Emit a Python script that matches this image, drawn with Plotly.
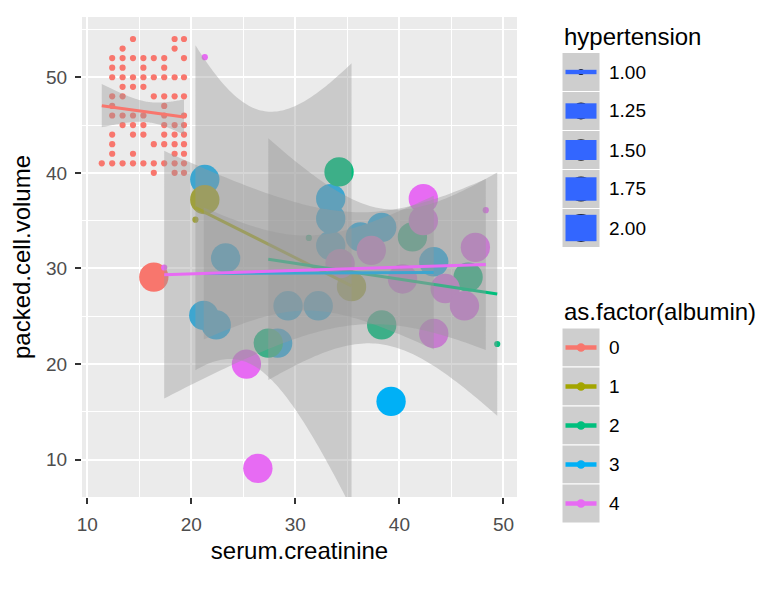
import math
import numpy as np
import plotly.graph_objects as go

FIG_W, FIG_H = 767, 592
ML, MR, MT, MB = 74, 258, 9, 103
PW = FIG_W - ML - MR
PH = FIG_H - MT - MB

# ---------------- data ----------------
ALBUMIN_LEVELS = ["0", "1", "2", "3", "4"]
COLORS = ["#F8766D", "#A3A500", "#00BF7D", "#00B0F6", "#E76BF3"]
HTN_BREAKS = [1.00, 1.25, 1.50, 1.75, 2.00]
HTN_LABELS = ["1.00", "1.25", "1.50", "1.75", "2.00"]
X_TICKS = [10, 20, 30, 40, 50]
Y_TICKS = [10, 20, 30, 40, 50]
X_RANGE = [9.5, 51.3]
Y_RANGE = [6.1, 56.3]

# albumin 0: a dense block of small points (column x values, rows of packed.cell.volume)
red_cols = [11.4, 12.4, 13.4, 14.4, 15.4, 16.4, 17.4, 18.4, 19.3]
red_rows = {
    54: [4, 8, 9],
    53: [3, 8],
    52: [2, 3, 4, 5, 6, 7, 9],
    51: [2, 3, 5, 7],
    50: [2, 3, 4, 5, 6, 7, 8, 9],
    49: [3, 4, 5],
    48: [2, 3, 6, 7, 8, 9],
    47: [2, 7],
    46: [2, 3, 4, 5, 7, 9],
    45: [3, 4, 5, 7, 8, 9],
    44: [2, 4, 5, 7, 8, 9],
    43: [2, 6, 7, 8, 9],
    42: [2, 4, 8, 9],
    41: [1, 2, 3, 4, 5, 6, 7, 8, 9],
    40: [6, 8, 9],
}
alb0_x = [red_cols[c - 1] for r, cs in red_rows.items() for c in cs] + [16.4]
alb0_y = [r for r, cs in red_rows.items() for c in cs] + [29.1]
alb0_h = [1] * (len(alb0_x) - 1) + [2]

alb1_x = [21.3, 20.4, 35.4]
alb1_y = [37.2, 35.1, 28.1]
alb1_h = [2, 1, 2]

alb2_x = [27.4, 31.3, 34.2, 41.25, 46.6, 38.3, 49.4]
alb2_y = [22.2, 33.2, 40.1, 33.3, 29.1, 24.1, 22.1]
alb2_h = [2, 1, 2, 2, 2, 2, 1]

alb3_x = [21.3, 23.3, 21.2, 22.4, 28.3, 29.3, 32.2, 33.4, 33.4, 33.4, 36.25, 38.3, 43.3, 39.2]
alb3_y = [39.3, 31.1, 25.1, 24.1, 22.2, 26.1, 26.1, 37.3, 35.2, 32.4, 33.3, 34.3, 30.7, 16.1]
alb3_h = [2] * 14

alb4_x = [21.3, 17.4, 25.3, 26.4, 34.3, 37.3, 42.3, 42.3, 48.3, 47.3, 40.3, 44.4, 46.25, 43.3]
alb4_y = [52.1, 30.1, 20.0, 9.1, 30.5, 31.9, 37.3, 35.0, 36.1, 32.2, 28.9, 27.9, 26.1, 23.2]
alb4_h = [1, 1, 2, 2, 2, 2, 2, 2, 1, 2, 2, 2, 2, 2]

groups = [
    (alb0_x, alb0_y, alb0_h),
    (alb1_x, alb1_y, alb1_h),
    (alb2_x, alb2_y, alb2_h),
    (alb3_x, alb3_y, alb3_h),
    (alb4_x, alb4_y, alb4_h),
]

# ---------------- helpers ----------------
PT_C = 1.63    # px scale for point diameters (ggplot: size*.pt + stroke)
LN_K = 4.4     # px per ggplot size unit (lines)


def size_unit(h):
    # ggplot area palette, range 1..6, hypertension domain 1..2
    return 1 + 5 * math.sqrt((h - 1) / (2 - 1))


def point_diam(h):
    return PT_C * (2.845 * size_unit(h) + 0.945)


def t975(df):
    table = {1: 12.706, 2: 4.303, 3: 3.182, 4: 2.776, 5: 2.571, 6: 2.447, 7: 2.365,
             8: 2.306, 9: 2.262, 10: 2.228, 11: 2.201, 12: 2.179, 13: 2.160,
             14: 2.145, 15: 2.131, 16: 2.120, 17: 2.110, 18: 2.101, 19: 2.093, 20: 2.086}
    if df in table:
        return table[df]
    z = 1.959964
    return z + (z ** 3 + z) / (4 * df) + (5 * z ** 5 + 16 * z ** 3 + 3 * z) / (96 * df ** 2)


def lm_fit(x, y, n=80):
    x = np.asarray(x, float)
    y = np.asarray(y, float)
    xm, ym = x.mean(), y.mean()
    sxx = ((x - xm) ** 2).sum()
    b = ((x - xm) * (y - ym)).sum() / sxx
    a = ym - b * xm
    df = len(x) - 2
    s = math.sqrt(((y - (a + b * x)) ** 2).sum() / df)
    xs = np.linspace(x.min(), x.max(), n)
    fit = a + b * xs
    se = s * np.sqrt(1 / len(x) + (xs - xm) ** 2 / sxx)
    t = t975(df)
    return xs, fit, fit - t * se, fit + t * se


fits = [lm_fit(gx, gy) for gx, gy, gh in groups]

fig = go.Figure()

# points (drawing order)
for gi in [0, 3, 1, 2, 4]:
    gx, gy, gh = groups[gi]
    fig.add_trace(go.Scatter(
        x=gx, y=gy, mode="markers",
        marker=dict(color=COLORS[gi], size=[point_diam(h) for h in gh],
                    line=dict(width=0), opacity=1),
        showlegend=False, hoverinfo="skip"))

# smooths: ribbon then line, per group
for gi, (xs, fit, lo, hi) in enumerate(fits):
    fig.add_trace(go.Scatter(
        x=np.concatenate([xs, xs[::-1]]), y=np.concatenate([hi, lo[::-1]]),
        fill="toself", fillcolor="rgba(153,153,153,0.4)", mode="none",
        line=dict(width=0), showlegend=False, hoverinfo="skip"))
    fig.add_trace(go.Scatter(
        x=xs, y=fit, mode="lines", line=dict(color=COLORS[gi], width=3),
        showlegend=False, hoverinfo="skip"))


# ---------------- legends (drawn) ----------------
def px(xp):
    return (xp - ML) / PW


def py(yp):
    return (FIG_H - MB - yp) / PH


shapes = []
annotations = []
KEY_X0, KEY_X1 = 554, 592
KEY_H = 39
LAB_X = 599
KEY_BG = "#CECECE"
TXT_FONT = "Liberation Sans, Arial, sans-serif"
TITLE_SIZE = 24
LABEL_SIZE = 19

# hypertension legend
annotations.append(dict(text="hypertension", x=px(KEY_X0), y=py(29), xref="paper", yref="paper",
                        xanchor="left", yanchor="middle", showarrow=False,
                        font=dict(family=TXT_FONT, size=TITLE_SIZE, color="black")))
top = 44.5
for i, (v, lab) in enumerate(zip(HTN_BREAKS, HTN_LABELS)):
    y0 = top + KEY_H * i
    y1 = y0 + KEY_H
    cy = (y0 + y1) / 2
    shapes.append(dict(type="rect", xref="paper", yref="paper", x0=px(KEY_X0), x1=px(KEY_X1),
                       y0=py(y1), y1=py(y0), fillcolor=KEY_BG, line=dict(color="white", width=1),
                       layer="above"))
    lw = LN_K * size_unit(v)
    pd = point_diam(v) if v == 1.0 else lw + 1.5
    cx = (KEY_X0 + KEY_X1) / 2
    shapes.append(dict(type="circle", xref="paper", yref="paper",
                       x0=px(cx - pd / 2), x1=px(cx + pd / 2), y0=py(cy + pd / 2), y1=py(cy - pd / 2),
                       fillcolor="#1A1A1A", line=dict(width=0), layer="above"))
    shapes.append(dict(type="rect", xref="paper", yref="paper",
                       x0=px(KEY_X0 + 3.5), x1=px(KEY_X1 - 3.5), y0=py(cy + lw / 2), y1=py(cy - lw / 2),
                       fillcolor="#3366FF", line=dict(width=0), layer="above"))
    annotations.append(dict(text=lab, x=px(LAB_X), y=py(cy), xref="paper", yref="paper",
                            xanchor="left", yanchor="middle", showarrow=False,
                            font=dict(family=TXT_FONT, size=LABEL_SIZE, color="black")))

# albumin legend
annotations.append(dict(text="as.factor(albumin)", x=px(KEY_X0), y=py(304), xref="paper", yref="paper",
                        xanchor="left", yanchor="middle", showarrow=False,
                        font=dict(family=TXT_FONT, size=TITLE_SIZE, color="black")))
top = 320
for i, lab in enumerate(ALBUMIN_LEVELS):
    y0 = top + KEY_H * i
    y1 = y0 + KEY_H
    cy = (y0 + y1) / 2
    cx = (KEY_X0 + KEY_X1) / 2
    shapes.append(dict(type="rect", xref="paper", yref="paper", x0=px(KEY_X0), x1=px(KEY_X1),
                       y0=py(y1), y1=py(y0), fillcolor=KEY_BG, line=dict(color="white", width=1),
                       layer="above"))
    shapes.append(dict(type="line", xref="paper", yref="paper", x0=px(KEY_X0 + 3.5), x1=px(KEY_X1 - 3.5),
                       y0=py(cy), y1=py(cy), line=dict(color=COLORS[i], width=4.5), layer="above"))
    d = 8.5
    shapes.append(dict(type="circle", xref="paper", yref="paper",
                       x0=px(cx - d / 2), x1=px(cx + d / 2), y0=py(cy + d / 2), y1=py(cy - d / 2),
                       fillcolor=COLORS[i], line=dict(width=0), layer="above"))
    annotations.append(dict(text=lab, x=px(LAB_X), y=py(cy), xref="paper", yref="paper",
                            xanchor="left", yanchor="middle", showarrow=False,
                            font=dict(family=TXT_FONT, size=LABEL_SIZE, color="black")))

axis_common = dict(
    ticks="outside", ticklen=6, tickwidth=1.6, tickcolor="#333333",
    showgrid=True, gridcolor="white", gridwidth=1.6,
    minor=dict(dtick=5, tick0=0, showgrid=True, gridcolor="white", gridwidth=0.8, ticks=""),
    zeroline=False, showline=False, ticklabelstandoff=4,
    tickfont=dict(family=TXT_FONT, size=LABEL_SIZE, color="#4D4D4D"),
)

fig.update_layout(
    width=FIG_W, height=FIG_H,
    margin=dict(l=ML, r=MR, t=MT, b=MB, autoexpand=False),
    paper_bgcolor="white", plot_bgcolor="#EBEBEB",
    font=dict(family=TXT_FONT, color="black"),
    showlegend=False,
    xaxis=dict(range=X_RANGE, tickvals=X_TICKS, ticktext=[str(v) for v in X_TICKS],
               title=dict(text="serum.creatinine", standoff=8,
                          font=dict(family=TXT_FONT, size=24, color="black")),
               **axis_common),
    yaxis=dict(range=Y_RANGE, tickvals=Y_TICKS, ticktext=[str(v) for v in Y_TICKS],
               title=dict(text="packed.cell.volume", standoff=12,
                          font=dict(family=TXT_FONT, size=24, color="black")),
               **axis_common),
    shapes=shapes,
    annotations=annotations,
)

fig.write_html("out.html")
